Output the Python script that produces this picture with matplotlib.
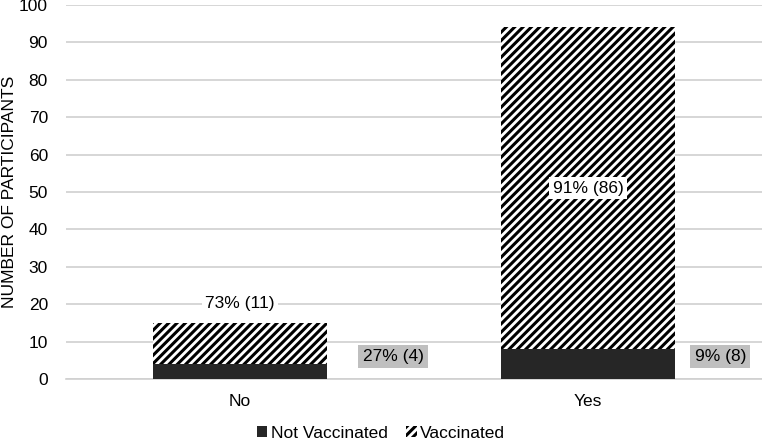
import numpy as np
import matplotlib.pyplot as plt
from matplotlib.patches import Patch

plt.rcParams['font.family'] = ['Liberation Sans', 'DejaVu Sans']
plt.rcParams['hatch.linewidth'] = 2.2

# data
categories = ['No', 'Yes']
not_vaccinated = [4, 8]
vaccinated = [11, 86]
not_vacc_labels = ['27% (4)', '9% (8)']
vacc_labels = ['73% (11)', '91% (86)']

dark = '#262626'
grid_col = '#d0d0d0'
fs = 12.5

fig = plt.figure(figsize=(7.62, 4.44), dpi=100)
ax = fig.add_axes([66 / 762, 1 - 379 / 444, 696 / 762, 374 / 444])

x = np.arange(len(categories))
ax.bar(x, not_vaccinated, width=0.5, color=dark, zorder=3)
ax.bar(x, vaccinated, width=0.5, bottom=not_vaccinated, color='white',
       edgecolor='black', hatch='////', linewidth=0, zorder=3)

# labels for vaccinated segment
for i in range(len(categories)):
    total = not_vaccinated[i] + vaccinated[i]
    if vaccinated[i] > 30:
        ly = not_vaccinated[i] + vaccinated[i] / 2
    else:
        ly = total + 5.3
    ax.text(x[i], ly, vacc_labels[i], ha='center', va='center', fontsize=fs,
            zorder=5, bbox=dict(boxstyle='square,pad=0.2', fc='white', ec='none'))

# labels for not vaccinated, right of bars in grey boxes
offsets = [0.44, 0.38]
for i in range(len(categories)):
    ax.text(x[i] + offsets[i], 6, not_vacc_labels[i], ha='center', va='center',
            fontsize=fs, zorder=5,
            bbox=dict(boxstyle='square,pad=0.25', fc='#bfbfbf', ec='none'))

ax.set_xlim(-0.5, 1.5)
ax.set_ylim(0, 100)
ax.set_yticks(np.arange(0, 101, 10))
ax.set_xticks(x)
ax.set_xticklabels(categories, fontsize=fs)
ax.tick_params(axis='both', length=0, labelsize=fs, colors='black')
ax.tick_params(axis='y', pad=13)
ax.tick_params(axis='x', pad=11)
ax.yaxis.grid(True, color=grid_col, linewidth=1.2, zorder=0)
ax.set_axisbelow(True)
for s in ['top', 'right', 'left']:
    ax.spines[s].set_visible(False)
ax.spines['bottom'].set_color(grid_col)
ax.spines['bottom'].set_linewidth(1.2)
fig.text(10 / 762, 0.567, 'NUMBER OF PARTICIPANTS', rotation=90, ha='center',
         va='center', fontsize=fs)

handles = [Patch(facecolor=dark, label='Not Vaccinated'),
           Patch(facecolor='white', edgecolor='black', hatch='////', linewidth=0,
                 label='Vaccinated')]
fig.legend(handles=handles, loc='lower center', bbox_to_anchor=(0.5, -0.028),
           ncol=2, frameon=False, fontsize=fs, handlelength=0.6, handleheight=0.6,
           handletextpad=0.2, columnspacing=1.1)

fig.savefig('out.png', dpi=100)
